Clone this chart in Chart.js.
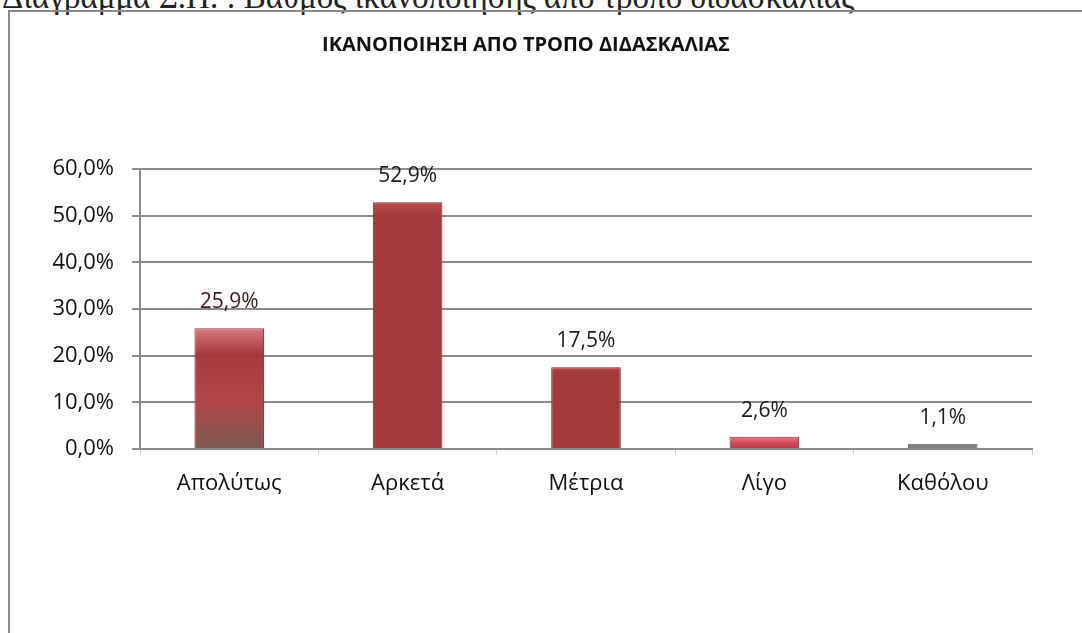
<!DOCTYPE html>
<html>
<head>
<meta charset="utf-8">
<script src="https://cdn.jsdelivr.net/npm/chart.js@4.4.1/dist/chart.umd.min.js"></script>
<style>
  html, body { margin: 0; padding: 0; background: #ffffff; overflow: hidden; }
  #wrap { position: relative; width: 1082px; height: 633px; }
  #caption {
    position: absolute; left: 2px; top: -19px; white-space: nowrap;
    font-family: "Liberation Serif", "DejaVu Serif", serif; font-size: 33px; line-height: 1;
    color: #222;
  }
  #frame {
    position: absolute; left: 8px; top: 10px; width: 1100px; height: 700px;
    border-top: 2px solid #8c8c8c; border-left: 2px solid #8c8c8c; box-sizing: border-box;
  }
  #chartBox { position: absolute; left: 0; top: 0; width: 1082px; height: 633px; }
</style>
</head>
<body>
<div id="wrap">
  <div id="caption">Διάγραμμα Σ.Π. : Βαθμός ικανοποίησης από τρόπο διδασκαλίας</div>
  <div id="frame"></div>
  <div id="chartBox"><canvas id="c" width="1082" height="633"></canvas></div>
</div>
<script>
// ---- data ----
const chartTitle = 'ΙΚΑΝΟΠΟΙΗΣΗ ΑΠΟ ΤΡΟΠΟ ΔΙΔΑΣΚΑΛΙΑΣ';
const categories = ['Απολύτως', 'Αρκετά', 'Μέτρια', 'Λίγο', 'Καθόλου'];
const values = [25.9, 52.9, 17.5, 2.6, 1.1];
const valueLabels = ['25,9%', '52,9%', '17,5%', '2,6%', '1,1%'];
const yTickLabels = ['0,0%', '10,0%', '20,0%', '30,0%', '40,0%', '50,0%', '60,0%'];

// ---- styles ----
const barColors = ['#a83b3e', '#a33a3a', '#a33a3a', '#cf4a58', '#808080'];
const barBorders = ['#8e3a3a', '#7e2828', '#7e2828', '#8a2530', '#6e6e6e'];
const FONT = '"Open Sans", "DejaVu Sans", sans-serif';

function barFill(ctx) {
  const chart = ctx.chart;
  const i = ctx.dataIndex;
  const ys = chart.scales && chart.scales.y;
  if (!ys || i === 4 || i === undefined) return barColors[i];
  const top = ys.getPixelForValue(ctx.raw !== undefined ? ctx.raw : values[i]);
  const base = ys.getPixelForValue(0);
  if (!Number.isFinite(top) || !Number.isFinite(base) || top === base) return barColors[i];
  const g = chart.ctx.createLinearGradient(0, top, 0, base);
  if (i === 0) {
    g.addColorStop(0, '#d67a80');
    g.addColorStop(0.22, '#a8383c');
    g.addColorStop(0.6, '#b24646');
    g.addColorStop(1, '#7a5a52');
  } else if (i === 3) {
    g.addColorStop(0, '#e87a88');
    g.addColorStop(0.5, '#d04a5a');
    g.addColorStop(1, '#b83848');
  } else {
    g.addColorStop(0, '#b84c4c');
    g.addColorStop(0.06, barColors[i]);
    g.addColorStop(1, barColors[i]);
  }
  return g;
}

const titlePlugin = {
  id: 'fixedTitle',
  afterDraw(chart) {
    const ctx = chart.ctx;
    ctx.save();
    ctx.font = 'bold 20px ' + FONT;
    ctx.fillStyle = '#111';
    ctx.textAlign = 'center';
    ctx.textBaseline = 'middle';
    ctx.fillText(chartTitle, 526, 45.5);
    ctx.restore();
  }
};

const valueLabelPlugin = {
  id: 'valueLabels',
  afterDatasetsDraw(chart) {
    const ctx = chart.ctx;
    const meta = chart.getDatasetMeta(0);
    ctx.save();
    ctx.font = '21px ' + FONT;
    ctx.textAlign = 'center';
    ctx.textBaseline = 'middle';
    meta.data.forEach((bar, i) => {
      ctx.fillStyle = i === 0 ? '#3a1c1c' : '#1a1a1a';
      ctx.fillText(valueLabels[i], bar.x, bar.y - 26);
    });
    ctx.restore();
  }
};

new Chart(document.getElementById('c'), {
  type: 'bar',
  data: {
    labels: categories,
    datasets: [{
      data: values,
      backgroundColor: barFill,
      borderColor: barBorders,
      borderWidth: 1,
      categoryPercentage: 1,
      barPercentage: 0.39
    }]
  },
  options: {
    responsive: false,
    animation: false,
    layout: { padding: { top: 169, right: 50, bottom: 0, left: 0 } },
    plugins: { legend: { display: false }, title: { display: false }, tooltip: { enabled: false } },
    scales: {
      x: {
        afterFit(s) { s.height = 633 - 449; },
        grid: { display: true, drawOnChartArea: false, tickLength: 6, color: '#d0d0d0', lineWidth: 1 },
        border: { display: true, color: '#8c8c8c', width: 2 },
        ticks: { color: '#111', font: { family: FONT, size: 22 }, padding: 16 }
      },
      y: {
        min: 0, max: 60,
        afterFit(s) { s.width = 140; },
        grid: { color: '#8c8c8c', lineWidth: 2, tickLength: 8 },
        border: { display: true, color: '#8c8c8c', width: 2 },
        ticks: {
          stepSize: 10,
          padding: 18,
          color: '#111',
          font: { family: FONT, size: 22 },
          callback: (v, i) => yTickLabels[i]
        }
      }
    }
  },
  plugins: [titlePlugin, valueLabelPlugin]
});
</script>
</body>
</html>
